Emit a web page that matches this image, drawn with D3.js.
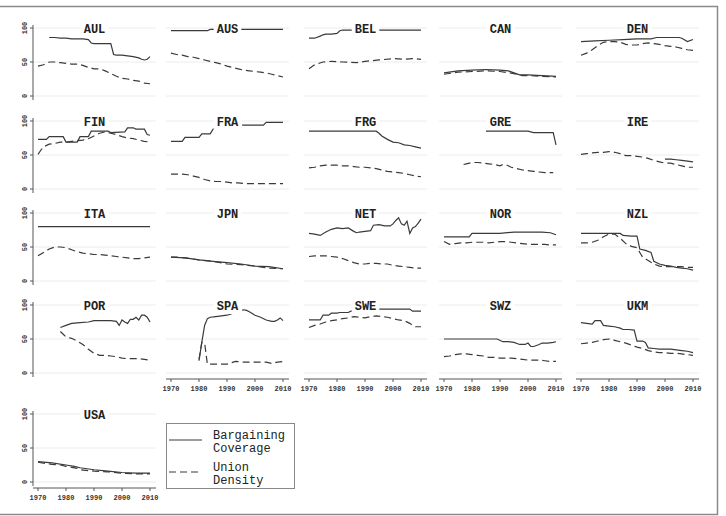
<!DOCTYPE html>
<html>
<head>
<meta charset="utf-8">
<script src="https://cdn.jsdelivr.net/npm/d3@7"></script>
<style>
  body { margin: 0; background: #fff; }
  svg { display: block; }
</style>
</head>
<body>
<div id="chart"></div>
<script>
// union density vs bargaining coverage, small multiples

const COUNTRIES = ['AUL','AUS','BEL','CAN','DEN','FIN','FRA','FRG','GRE','IRE',
                   'ITA','JPN','NET','NOR','NZL','POR','SPA','SWE','SWZ','UKM','USA'];
const X_TICKS = [1970, 1980, 1990, 2000, 2010];
const Y_TICKS = [0, 50, 100];

// [year, value] pairs
const AUL_COV = [[1974,86],[1976,86],[1978,85],[1980,85],[1982,84],[1984,84],[1986,84],[1988,83],[1989,78],[1990,77],[1992,77],[1994,77],[1996,77],[1997,61],[1998,60],[2000,60],[2002,59],[2004,58],[2006,56],[2007,54],[2008,53],[2009,54],[2010,58]];
const AUL_DEN = [[1970,44],[1972,46],[1974,50],[1976,50],[1978,49],[1980,48],[1982,47],[1984,47],[1986,45],[1988,42],[1990,40],[1992,40],[1994,37],[1996,33],[1998,29],[2000,26],[2002,25],[2004,23],[2006,22],[2008,19],[2010,18]];
const AUS_COV = [[1970,96],[1975,96],[1980,96],[1983,96],[1984,98],[1990,98],[1995,98],[2000,98],[2005,98],[2010,98]];
const AUS_DEN = [[1970,63],[1972,61],[1974,60],[1976,58],[1978,57],[1980,55],[1982,53],[1984,51],[1986,49],[1988,47],[1990,44],[1992,42],[1994,40],[1996,38],[1998,37],[2000,36],[2002,35],[2004,34],[2006,32],[2008,30],[2010,28]];
const BEL_COV = [[1970,85],[1972,85],[1974,88],[1975,90],[1976,91],[1978,91],[1980,92],[1981,96],[1982,97],[1990,97],[2000,97],[2010,97]];
const BEL_DEN = [[1970,40],[1972,46],[1975,50],[1978,51],[1982,50],[1987,49],[1990,51],[1995,53],[2000,55],[2004,54],[2007,55],[2010,54]];
const CAN_COV = [[1970,34],[1975,37],[1980,38],[1985,39],[1990,38],[1993,37],[1995,34],[1997,31],[2000,31],[2005,30],[2010,29]];
const CAN_DEN = [[1970,32],[1975,35],[1980,36],[1985,37],[1990,36],[1995,33],[1998,30],[2000,30],[2005,29],[2010,28]];
const DEN_COV = [[1970,80],[1975,81],[1980,82],[1985,83],[1990,84],[1995,84],[1997,86],[2000,86],[2005,86],[2006,85],[2008,80],[2010,83]];
const DEN_DEN = [[1970,60],[1972,63],[1974,68],[1976,74],[1978,79],[1980,80],[1982,80],[1984,79],[1986,76],[1988,75],[1990,75],[1992,77],[1994,78],[1996,77],[1998,76],[2000,74],[2002,73],[2004,72],[2006,70],[2008,68],[2010,67]];
const FIN_COV = [[1970,73],[1973,73],[1974,77],[1979,77],[1980,69],[1984,69],[1985,77],[1988,77],[1989,85],[1995,85],[1996,83],[2001,84],[2002,90],[2004,90],[2005,88],[2008,88],[2009,80],[2010,79]];
const FIN_DEN = [[1970,51],[1971,57],[1972,62],[1974,66],[1976,67],[1978,69],[1980,69],[1982,70],[1984,71],[1986,72],[1988,74],[1990,78],[1992,82],[1994,84],[1996,82],[1998,80],[2000,77],[2002,75],[2004,74],[2006,72],[2008,70],[2010,69]];
const FRA_COV = [[1970,70],[1974,70],[1975,76],[1980,76],[1981,81],[1984,81],[1985,88],[1988,92],[1990,94],[1995,94],[2000,94],[2003,94],[2004,98],[2010,98]];
const FRA_DEN = [[1970,22],[1972,22],[1974,22],[1976,21],[1978,19],[1980,17],[1982,14],[1984,12],[1986,11],[1988,11],[1990,10],[1992,9],[1994,9],[1996,8],[1998,8],[2000,8],[2004,8],[2008,8],[2010,8]];
const FRG_COV = [[1970,85],[1980,85],[1990,85],[1994,85],[1995,82],[1996,78],[1998,73],[2000,69],[2002,68],[2004,65],[2006,64],[2008,62],[2010,60]];
const FRG_DEN = [[1970,31],[1972,32],[1974,34],[1976,35],[1978,35],[1980,35],[1982,34],[1984,34],[1986,33],[1988,32],[1990,32],[1992,31],[1994,30],[1996,28],[1998,26],[2000,25],[2002,24],[2004,23],[2006,21],[2008,19],[2010,18]];
const GRE_COV = [[1985,85],[1990,85],[1995,85],[2000,85],[2001,84],[2002,83],[2005,83],[2009,83],[2010,65]];
const GRE_DEN = [[1977,36],[1978,37],[1980,39],[1982,39],[1984,38],[1986,37],[1988,36],[1990,34],[1991,36],[1992,36],[1994,32],[1996,30],[1998,28],[2000,27],[2002,26],[2004,25],[2006,24],[2009,24]];
const IRE_COV = [[2000,44],[2002,44],[2004,43],[2006,42],[2008,41],[2010,40]];
const IRE_DEN = [[1970,51],[1972,52],[1974,53],[1976,54],[1978,54],[1980,55],[1982,54],[1984,52],[1986,49],[1988,49],[1990,48],[1992,47],[1994,45],[1996,42],[1998,40],[2000,38],[2002,38],[2004,36],[2006,34],[2008,32],[2010,32]];
const ITA_COV = [[1970,80],[1980,80],[1990,80],[2000,80],[2010,80]];
const ITA_DEN = [[1970,37],[1972,42],[1974,47],[1976,50],[1978,50],[1980,49],[1982,46],[1984,43],[1986,41],[1988,40],[1990,39],[1992,39],[1994,38],[1996,37],[1998,36],[2000,35],[2002,34],[2004,33],[2006,33],[2008,34],[2010,35]];
const JPN_COV = [[1970,35],[1975,34],[1980,31],[1985,29],[1990,27],[1995,25],[2000,22],[2005,21],[2010,18]];
const JPN_DEN = [[1970,35],[1972,35],[1975,34],[1980,31],[1985,29],[1990,25],[1995,24],[2000,22],[2005,19],[2010,18]];
const NET_COV = [[1970,70],[1972,69],[1974,67],[1976,72],[1978,76],[1980,78],[1982,77],[1984,78],[1986,73],[1987,71],[1988,72],[1990,73],[1992,74],[1993,82],[1995,83],[1997,81],[1999,81],[2000,84],[2001,89],[2002,93],[2003,84],[2004,82],[2005,88],[2006,70],[2007,78],[2008,80],[2009,85],[2010,91]];
const NET_DEN = [[1970,36],[1972,37],[1974,37],[1976,37],[1978,36],[1980,35],[1982,33],[1984,30],[1986,27],[1988,25],[1990,25],[1992,26],[1994,26],[1996,25],[1998,25],[2000,23],[2002,22],[2004,21],[2006,20],[2008,19],[2010,19]];
const NOR_COV = [[1970,65],[1979,65],[1980,70],[1990,70],[1995,72],[2000,72],[2005,72],[2008,71],[2010,68]];
const NOR_DEN = [[1970,58],[1972,54],[1974,55],[1976,56],[1978,56],[1980,57],[1982,57],[1984,57],[1986,56],[1988,57],[1990,58],[1992,58],[1994,57],[1996,56],[1998,55],[2000,54],[2002,54],[2004,54],[2006,54],[2008,53],[2010,53]];
const NZL_COV = [[1970,70],[1975,70],[1980,70],[1984,70],[1985,67],[1988,66],[1990,66],[1991,47],[1993,45],[1995,42],[1996,29],[1998,25],[2000,23],[2002,22],[2004,20],[2006,19],[2008,18],[2010,16]];
const NZL_DEN = [[1970,56],[1972,56],[1974,57],[1976,60],[1978,65],[1980,69],[1982,69],[1984,63],[1986,55],[1988,51],[1990,49],[1991,42],[1992,35],[1994,30],[1996,25],[1998,22],[2000,21],[2002,21],[2004,21],[2006,21],[2008,20],[2010,20]];
const POR_COV = [[1978,67],[1980,70],[1982,73],[1985,74],[1988,75],[1990,77],[1992,77],[1994,77],[1996,77],[1998,76],[1999,70],[2000,78],[2001,75],[2002,73],[2003,79],[2004,79],[2005,82],[2006,78],[2007,85],[2008,85],[2009,82],[2010,75]];
const POR_DEN = [[1978,61],[1979,57],[1980,53],[1982,51],[1984,47],[1986,42],[1988,35],[1990,29],[1992,26],[1994,26],[1996,25],[1998,24],[2000,22],[2002,21],[2004,21],[2006,21],[2008,20],[2010,19]];
const SPA_COV = [[1980,18],[1981,45],[1982,70],[1983,80],[1984,82],[1986,83],[1990,85],[1994,90],[1995,92],[1996,93],[1997,92],[1998,90],[2000,85],[2002,82],[2004,78],[2006,76],[2007,76],[2008,78],[2009,81],[2010,77]];
const SPA_DEN = [[1980,20],[1981,45],[1982,44],[1983,13],[1986,13],[1990,13],[1993,17],[1996,16],[2000,16],[2004,16],[2006,14],[2008,16],[2010,17]];
const SWE_COV = [[1970,78],[1974,78],[1975,85],[1977,85],[1978,88],[1980,88],[1981,89],[1984,89],[1985,91],[1990,92],[1995,94],[2000,94],[2006,94],[2007,91],[2010,91]];
const SWE_DEN = [[1970,67],[1972,70],[1974,72],[1976,75],[1978,77],[1980,78],[1982,80],[1984,81],[1986,83],[1988,82],[1990,81],[1992,83],[1994,84],[1996,83],[1998,82],[2000,80],[2002,78],[2004,77],[2006,73],[2007,70],[2008,68],[2010,68]];
const SWZ_COV = [[1970,50],[1980,50],[1989,50],[1991,46],[1993,46],[1995,45],[1997,42],[1999,42],[2000,44],[2001,39],[2002,39],[2004,42],[2005,44],[2007,44],[2009,45],[2010,46]];
const SWZ_DEN = [[1970,24],[1972,25],[1974,27],[1976,28],[1978,28],[1980,27],[1982,26],[1984,25],[1986,23],[1988,23],[1990,22],[1992,22],[1994,22],[1996,21],[1998,20],[2000,19],[2002,19],[2004,19],[2006,18],[2008,17],[2010,17]];
const UKM_COV = [[1970,74],[1972,73],[1974,72],[1975,77],[1977,77],[1978,70],[1980,69],[1982,68],[1984,66],[1985,64],[1987,64],[1989,63],[1990,47],[1992,47],[1993,45],[1994,37],[1996,36],[1998,35],[2000,35],[2002,35],[2004,34],[2006,33],[2008,32],[2010,30]];
const UKM_DEN = [[1970,43],[1972,44],[1974,45],[1976,47],[1978,49],[1980,50],[1982,48],[1984,46],[1986,44],[1988,41],[1990,38],[1992,36],[1994,33],[1996,31],[1998,30],[2000,30],[2002,29],[2004,29],[2006,28],[2008,27],[2010,26]];
const USA_COV = [[1970,30],[1975,28],[1980,25],[1983,23],[1985,21],[1990,18],[1995,16],[2000,14],[2005,13],[2010,13]];
const USA_DEN = [[1970,29],[1975,26],[1978,25],[1980,23],[1984,20],[1985,18],[1990,16],[1995,15],[2000,13],[2005,12],[2010,12]];

const SERIES = {
	AUL: [AUL_COV, AUL_DEN], AUS: [AUS_COV, AUS_DEN], BEL: [BEL_COV, BEL_DEN], CAN: [CAN_COV, CAN_DEN],
	DEN: [DEN_COV, DEN_DEN], FIN: [FIN_COV, FIN_DEN], FRA: [FRA_COV, FRA_DEN], FRG: [FRG_COV, FRG_DEN],
	GRE: [GRE_COV, GRE_DEN], IRE: [IRE_COV, IRE_DEN], ITA: [ITA_COV, ITA_DEN], JPN: [JPN_COV, JPN_DEN],
	NET: [NET_COV, NET_DEN], NOR: [NOR_COV, NOR_DEN], NZL: [NZL_COV, NZL_DEN], POR: [POR_COV, POR_DEN],
	SPA: [SPA_COV, SPA_DEN], SWE: [SWE_COV, SWE_DEN], SWZ: [SWZ_COV, SWZ_DEN], UKM: [UKM_COV, UKM_DEN],
	USA: [USA_COV, USA_DEN]
};

// frame
const FRAME_WIDTH = 726;
const FRAME_HEIGHT = 516;
const COL_X = [38, 171, 309, 444, 581];   // pixel of 1970 in each column
const ROW_Y = [28, 121, 213, 305, 414];   // pixel of 100 in each row
const PANEL_W = 112;
const PANEL_H = 68;
const FONT = '"Liberation Mono", "Courier New", monospace';
const LINE_COLOR = '#3a3a3a';

const svg = d3.select('#chart')
		.append('svg')
			.attr('width', FRAME_WIDTH)
			.attr('height', FRAME_HEIGHT);

// outer border
svg.append('path')
	.attr('d', 'M0,6.5H717.5V514.5H0')
	.attr('fill', 'none')
	.attr('stroke', '#8a8a8a')
	.attr('stroke-width', 1.5);

COUNTRIES.forEach((c, i) => {
	const col = i % 5;
	const row = Math.floor(i / 5);
	const x0 = COL_X[col];
	const y0 = ROW_Y[row];

	const xscale = d3.scaleLinear().domain([1970, 2010]).range([x0, x0 + PANEL_W]);
	const yscale = d3.scaleLinear().domain([0, 100]).range([y0 + PANEL_H, y0]);

	const left = x0 - 5, right = x0 + PANEL_W + 6;
	const top = y0 - 3, bottom = y0 + PANEL_H + 4;

	const g = svg.append('g');

	// gridlines
	g.selectAll('.grid')
		.data(Y_TICKS)
		.enter()
		.append('line')
			.attr('x1', left)
			.attr('x2', right)
			.attr('y1', (d) => yscale(d))
			.attr('y2', (d) => yscale(d))
			.attr('stroke', '#ececec')
			.attr('stroke-width', 1);

	// lines
	const line = d3.line()
			.x((d) => xscale(d[0]))
			.y((d) => yscale(d[1]));

	const [cov, den] = SERIES[c];
	g.append('path')
		.datum(cov)
		.attr('d', line)
		.attr('fill', 'none')
		.attr('stroke', LINE_COLOR)
		.attr('stroke-width', 1.2);
	g.append('path')
		.datum(den)
		.attr('d', line)
		.attr('fill', 'none')
		.attr('stroke', LINE_COLOR)
		.attr('stroke-width', 1.2)
		.attr('stroke-dasharray', '7,4');

	// panel title with white box
	const cx = (left + right) / 2;
	const title = g.append('text')
		.attr('x', cx)
		.attr('y', y0 + 5)
		.attr('text-anchor', 'middle')
		.attr('font-family', FONT)
		.attr('font-weight', 'bold')
		.attr('font-size', '12px')
		.attr('fill', '#222')
		.text(c);
	const bb = title.node().getBBox();
	g.insert('rect', 'text')
		.attr('x', bb.x - 3)
		.attr('y', bb.y)
		.attr('width', bb.width + 6)
		.attr('height', bb.height)
		.attr('fill', '#fff');

	// y axis on first column
	if (col === 0) {
		const ya = g.append('g');
		ya.append('line')
			.attr('x1', left).attr('x2', left)
			.attr('y1', top).attr('y2', bottom)
			.attr('stroke', '#555');
		ya.selectAll('.tick')
			.data(Y_TICKS)
			.enter()
			.append('line')
				.attr('x1', left - 3).attr('x2', left)
				.attr('y1', (d) => yscale(d)).attr('y2', (d) => yscale(d))
				.attr('stroke', '#555');
		ya.selectAll('.lab')
			.data(Y_TICKS)
			.enter()
			.append('text')
				.attr('transform', (d) => 'translate(' + (left - 6) + ',' + yscale(d) + ') rotate(-90)')
				.attr('text-anchor', 'middle')
				.attr('font-family', FONT)
				.attr('font-size', '7px')
				.attr('font-weight', 'bold')
				.attr('fill', '#333')
				.text((d) => d);
	}

	// x axis where no panel sits below
	if (i + 5 >= COUNTRIES.length) {
		const axisY = y0 + PANEL_H + 6;
		const xa = g.append('g');
		xa.append('line')
			.attr('x1', left).attr('x2', right)
			.attr('y1', axisY).attr('y2', axisY)
			.attr('stroke', '#555');
		xa.selectAll('.tick')
			.data(X_TICKS)
			.enter()
			.append('line')
				.attr('x1', (d) => xscale(d)).attr('x2', (d) => xscale(d))
				.attr('y1', axisY).attr('y2', axisY + 3)
				.attr('stroke', '#555');
		xa.selectAll('.lab')
			.data(X_TICKS)
			.enter()
			.append('text')
				.attr('x', (d) => xscale(d))
				.attr('y', axisY + 12)
				.attr('text-anchor', 'middle')
				.attr('font-family', FONT)
				.attr('font-size', '7px')
				.attr('font-weight', 'bold')
				.attr('fill', '#333')
				.text((d) => d);
	}
});

// legend
const LEGEND_ITEMS = [
	{lines: ['Bargaining', 'Coverage'], dash: null},
	{lines: ['Union', 'Density'], dash: '7,4'}
];
const legend = svg.append('g');
legend.append('rect')
	.attr('x', 166.5).attr('y', 423.5)
	.attr('width', 128).attr('height', 65)
	.attr('fill', '#fff')
	.attr('stroke', '#888');
LEGEND_ITEMS.forEach((d, k) => {
	const ly = 440 + k * 32;
	legend.append('line')
		.attr('x1', 169).attr('x2', 202)
		.attr('y1', ly).attr('y2', ly)
		.attr('stroke', LINE_COLOR)
		.attr('stroke-width', 1.2)
		.attr('stroke-dasharray', d.dash);
	d.lines.forEach((t, j) => {
		legend.append('text')
			.attr('x', 213)
			.attr('y', ly - 1 + j * 13)
			.attr('font-family', FONT)
			.attr('font-size', '12px')
			.attr('fill', '#222')
			.text(t);
	});
});
</script>
</body>
</html>
